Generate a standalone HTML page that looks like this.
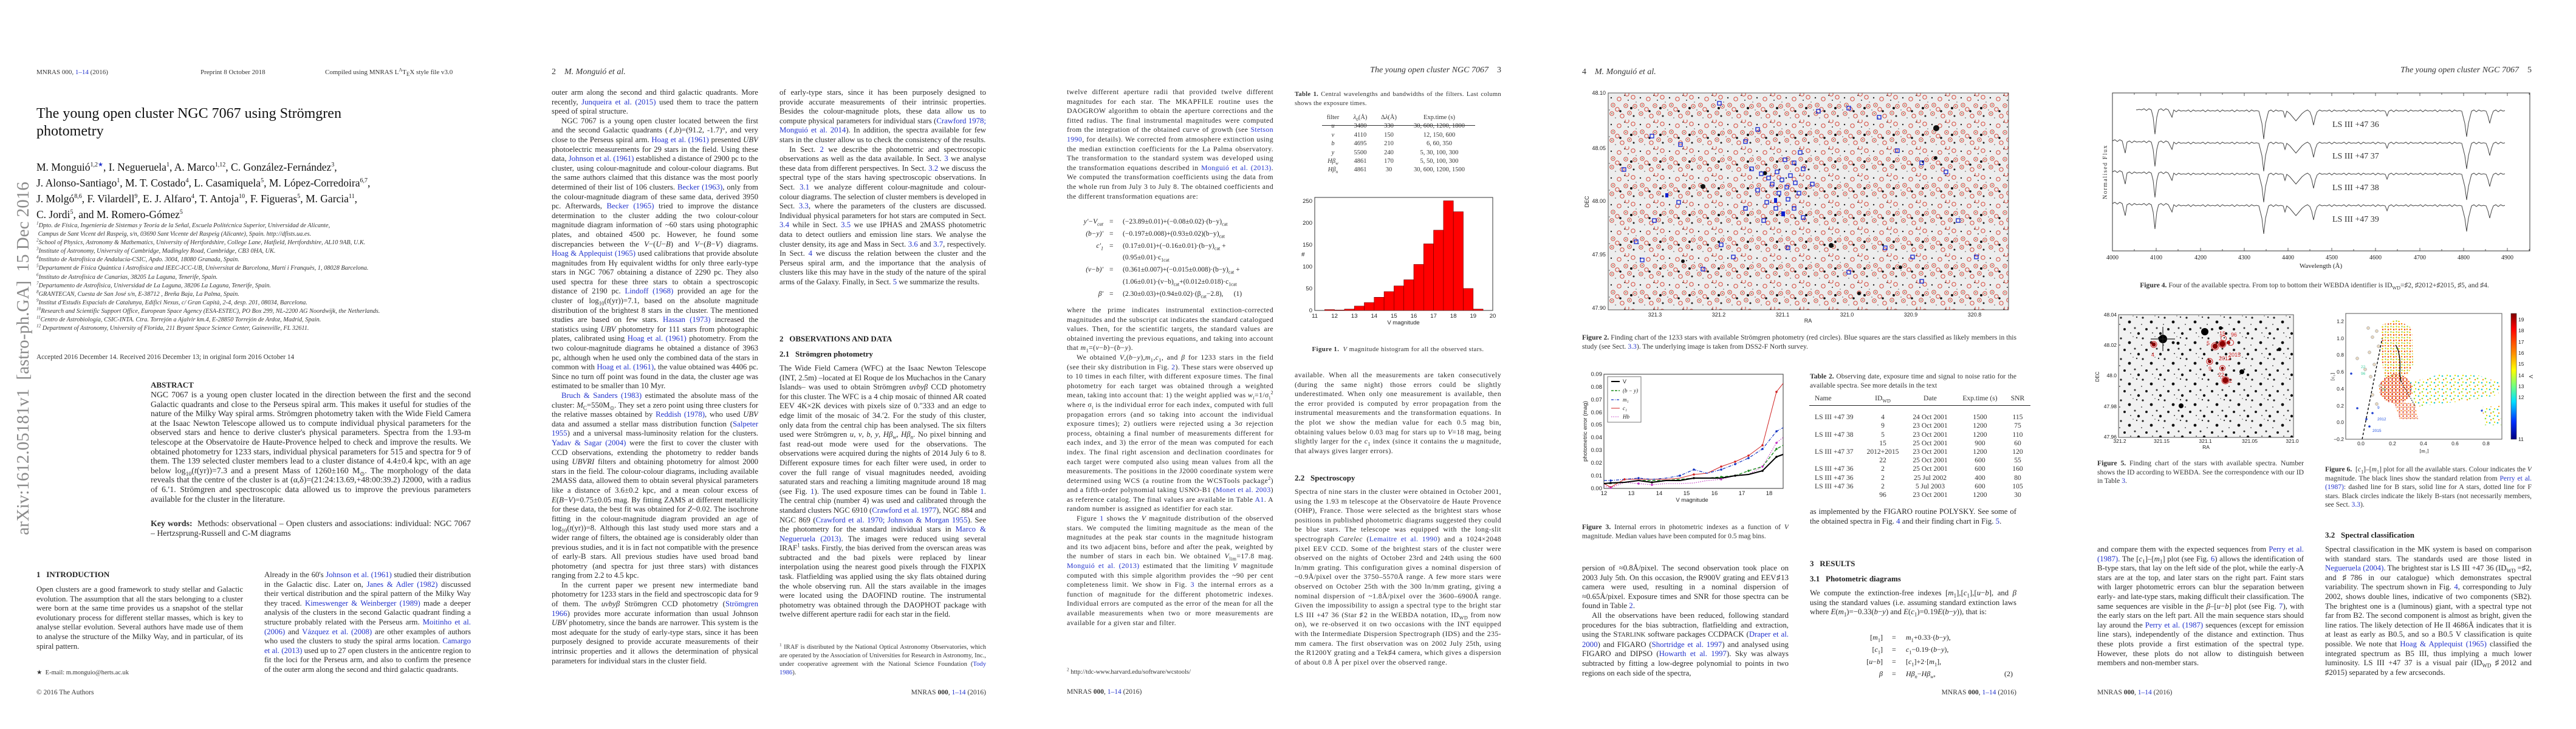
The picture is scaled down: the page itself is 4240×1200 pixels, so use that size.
<!DOCTYPE html>
<html><head><meta charset="utf-8">
<style>
html,body{margin:0;padding:0;background:#fff;}
body{width:4240px;height:1200px;position:relative;overflow:hidden;font-family:"Liberation Serif",serif;color:#222;}
sub,sup{line-height:0;font-size:70%;}
.a{position:absolute;}
.col{position:absolute;width:340px;font-size:12.8px;line-height:15.6px;text-align:justify;overflow:hidden;color:#2a2a2a;}
.col p{margin:0;text-indent:16px;}
.col p.ni{text-indent:0;}
.l{color:#2233cc;}
.hd{position:absolute;font-size:11px;line-height:14px;color:#333;white-space:nowrap;}
.it{font-style:italic;}
.sec{position:absolute;font-size:13px;font-weight:bold;line-height:16px;white-space:nowrap;color:#222;}
.cap{position:absolute;font-size:11.5px;line-height:14.5px;text-align:justify;color:#333;overflow:hidden;}
.pg3 {letter-spacing:0.4px;font-size:11.8px;}
</style></head><body>

<!-- ================= PAGE 1 ================= -->
<div class="hd" style="left:60px;top:112px;">MNRAS 000, <span class="l">1–14</span> (2016)</div>
<div class="hd" style="left:330px;top:112px;">Preprint 8 October 2018</div>
<div class="hd" style="left:535px;top:112px;">Compiled using MNRAS L<sup style="font-size:8px">A</sup>T<sub style="font-size:9px">E</sub>X style file v3.0</div>
<div class="a" style="left:60px;top:173px;font-size:24px;line-height:29px;white-space:nowrap;color:#111;">The young open cluster NGC 7067 using Strömgren<br>photometry</div>
<div class="a" style="left:60px;top:262px;font-size:17.5px;line-height:26px;white-space:nowrap;color:#111;">M. Monguió<sup style="font-size:10px">1,2<span class="l">★</span></sup>, I. Negueruela<sup style="font-size:10px">1</sup>, A. Marco<sup style="font-size:10px">1,12</sup>, C. González-Fernández<sup style="font-size:10px">3</sup>,<br>J. Alonso-Santiago<sup style="font-size:10px">1</sup>, M. T. Costado<sup style="font-size:10px">4</sup>, L. Casamiquela<sup style="font-size:10px">5</sup>, M. López-Corredoira<sup style="font-size:10px">6,7</sup>,<br>J. Molgó<sup style="font-size:10px">8,6</sup>, F. Vilardell<sup style="font-size:10px">9</sup>, E. J. Alfaro<sup style="font-size:10px">4</sup>, T. Antoja<sup style="font-size:10px">10</sup>, F. Figueras<sup style="font-size:10px">5</sup>, M. Garcia<sup style="font-size:10px">11</sup>,<br>C. Jordi<sup style="font-size:10px">5</sup>, and M. Romero-Gómez<sup style="font-size:10px">5</sup></div>
<div class="a it" style="left:60px;top:365px;font-size:10.3px;line-height:14.1px;white-space:nowrap;color:#333;">
<sup>1</sup>Dpto. de Física, Ingeniería de Sistemas y Teoría de la Señal, Escuela Politécnica Superior, Universidad de Alicante,<br>
&nbsp;Campus de Sant Vicent del Raspeig, s/n, 03690 Sant Vicente del Raspeig (Alicante), Spain. http://dfists.ua.es.<br>
<sup>2</sup>School of Physics, Astronomy &amp; Mathematics, University of Hertfordshire, College Lane, Hatfield, Hertfordshire, AL10 9AB, U.K.<br>
<sup>3</sup>Institute of Astronomy, University of Cambridge, Madingley Road, Cambridge, CB3 0HA, UK.<br>
<sup>4</sup>Instituto de Astrofísica de Andalucía-CSIC, Apdo. 3004, 18080 Granada, Spain.<br>
<sup>5</sup>Departament de Física Quàntica i Astrofísica and IEEC-ICC-UB, Universitat de Barcelona, Martí i Franquès, 1, 08028 Barcelona.<br>
<sup>6</sup>Instituto de Astrofísica de Canarias, 38205 La Laguna, Tenerife, Spain.<br>
<sup>7</sup>Departamento de Astrofísica, Universidad de La Laguna, 38206 La Laguna, Tenerife, Spain.<br>
<sup>8</sup>GRANTECAN, Cuesta de San José s/n, E-38712 , Breña Baja, La Palma, Spain.<br>
<sup>9</sup>Institut d'Estudis Espacials de Catalunya, Edifici Nexus, c/ Gran Capità, 2-4, desp. 201, 08034, Barcelona.<br>
<sup>10</sup>Research and Scientific Support Office, European Space Agency (ESA-ESTEC), PO Box 299, NL-2200 AG Noordwijk, the Netherlands.<br>
<sup>11</sup>Centro de Astrobiología, CSIC-INTA. Ctra. Torrejón a Ajalvir km.4, E-28850 Torrejón de Ardoz, Madrid, Spain.<br>
<sup>12</sup> Department of Astronomy, University of Florida, 211 Bryant Space Science Center, Gainesville, FL 32611.</div>
<div class="hd" style="left:60px;top:581px;font-size:11.3px;">Accepted 2016 December 14. Received 2016 December 13; in original form 2016 October 14</div>
<div class="a" style="left:-262px;top:570px;width:600px;height:40px;line-height:40px;text-align:center;font-size:29px;color:#8a8a8a;transform:rotate(-90deg);white-space:nowrap;">arXiv:1612.05181v1&nbsp; [astro-ph.GA]&nbsp; 15 Dec 2016</div>
<div class="sec" style="left:248px;top:626px;">ABSTRACT</div>
<div class="col" style="left:248px;top:642px;width:527px;height:204px;font-size:13.8px;">NGC 7067 is a young open cluster located in the direction between the first and the second Galactic quadrants and close to the Perseus spiral arm. This makes it useful for studies of the nature of the Milky Way spiral arms. Strömgren photometry taken with the Wide Field Camera at the Isaac Newton Telescope allowed us to compute individual physical parameters for the observed stars and hence to derive cluster's physical parameters. Spectra from the 1.93-m telescope at the Observatoire de Haute-Provence helped to check and improve the results. We obtained photometry for 1233 stars, individual physical parameters for 515 and spectra for 9 of them. The 139 selected cluster members lead to a cluster distance of 4.4±0.4 kpc, with an age below log<sub>10</sub>(<i>t</i>(yr))=7.3 and a present Mass of 1260±160 M<sub>⊙</sub>. The morphology of the data reveals that the centre of the cluster is at (α,δ)=(21:24:13.69,+48:00:39.2) J2000, with a radius of 6.′1. Strömgren and spectroscopic data allowed us to improve the previous parameters available for the cluster in the literature.</div>
<div class="col" style="left:248px;top:854px;width:527px;height:32px;font-size:13.8px;"><b>Key words:</b>&nbsp; Methods: observational – Open clusters and associations: individual: NGC 7067 – Hertzsprung-Russell and C-M diagrams</div>
<div class="sec" style="left:60px;top:938px;">1&nbsp;&nbsp;&nbsp;INTRODUCTION</div>
<div class="col" style="left:60px;top:963px;height:110px;"><p class="ni">Open clusters are a good framework to study stellar and Galactic evolution. The assumption that all the stars belonging to a cluster were born at the same time provides us a snapshot of the stellar evolutionary process for different stellar masses, which is key to analyse stellar evolution. Several authors have made use of them to analyse the structure of the Milky Way, and in particular, of its spiral pattern.</p></div>
<div class="hd" style="left:60px;top:1101px;font-size:10.5px;">★&nbsp; E-mail: m.monguio@herts.ac.uk</div>
<div class="hd" style="left:60px;top:1133px;font-size:11.5px;">© 2016 The Authors</div>
<div class="col" style="left:435px;top:939px;height:173px;"><p class="ni">Already in the 60's <span class="l">Johnson et al. (1961)</span> studied their distribution in the Galactic disc. Later on, <span class="l">Janes &amp; Adler (1982)</span> discussed their vertical distribution and the spiral pattern of the Milky Way they traced. <span class="l">Kimeswenger &amp; Weinberger (1989)</span> made a deeper analysis of the clusters in the second Galactic quadrant finding a structure probably related with the Perseus arm. <span class="l">Moitinho et al. (2006)</span> and <span class="l">Vázquez et al. (2008)</span> are other examples of authors who used the clusters to study the spiral arms location. <span class="l">Camargo et al. (2013)</span> used up to 27 open clusters in the anticentre region to fit the loci for the Perseus arm, and also to confirm the presence of the outer arm along the second and third galactic quadrants.</p></div>

<!-- ================= PAGE 2 ================= -->
<div class="hd" style="left:908px;top:110px;font-size:14px;line-height:18px;">2&nbsp;&nbsp;&nbsp;&nbsp;<i>M. Monguió et al.</i></div>
<div class="col" style="left:908px;top:145px;height:970px;"><p class="ni">outer arm along the second and third galactic quadrants. More recently, <span class="l">Junqueira et al. (2015)</span> used them to trace the pattern speed of spiral structure.</p><p>NGC 7067 is a young open cluster located between the first and the second Galactic quadrants (<i>ℓ</i>,<i>b</i>)=(91.2, -1.7)°, and very close to the Perseus spiral arm. <span class="l">Hoag et al. (1961)</span> presented <i>UBV</i> photoelectric measurements for 29 stars in the field. Using these data, <span class="l">Johnson et al. (1961)</span> established a distance of 2900 pc to the cluster, using colour-magnitude and colour-colour diagrams. But the same authors claimed that this distance was the most poorly determined of their list of 106 clusters. <span class="l">Becker (1963)</span>, only from the colour-magnitude diagram of these same data, derived 3950 pc. Afterwards, <span class="l">Becker (1965)</span> tried to improve the distance determination to the cluster adding the two colour-colour magnitude diagram information of ~60 stars using photographic plates, and obtained 4500 pc. However, he found some discrepancies between the <i>V</i>−(<i>U</i>−<i>B</i>) and <i>V</i>−(<i>B</i>−<i>V</i>) diagrams. <span class="l">Hoag &amp; Applequist (1965)</span> used calibrations that provide absolute magnitudes from Hγ equivalent widths for only three early-type stars in NGC 7067 obtaining a distance of 2290 pc. They also used spectra for these three stars to obtain a spectroscopic distance of 2190 pc. <span class="l">Lindoff (1968)</span> provided an age for the cluster of log<sub>10</sub>(<i>t</i>(yr))=7.1, based on the absolute magnitude distribution of the brightest 8 stars in the cluster. The mentioned studies are based on few stars. <span class="l">Hassan (1973)</span> increased the statistics using <i>UBV</i> photometry for 111 stars from photographic plates, calibrated using <span class="l">Hoag et al. (1961)</span> photometry. From the two colour-magnitude diagrams he obtained a distance of 3963 pc, although when he used only the combined data of the stars in common with <span class="l">Hoag et al. (1961)</span>, the value obtained was 4406 pc. Since no turn off point was found in the data, the cluster age was estimated to be smaller than 10 Myr.</p><p><span class="l">Bruch &amp; Sanders (1983)</span> estimated the absolute mass of the cluster: <i>M</i><sub>C</sub>=550M<sub>⊙</sub>. They set a zero point using three clusters for the relative masses obtained by <span class="l">Reddish (1978)</span>, who used <i>UBV</i> data and assumed a stellar mass distribution function (<span class="l">Salpeter 1955</span>) and a universal mass-luminosity relation for the clusters. <span class="l">Yadav &amp; Sagar (2004)</span> were the first to cover the cluster with CCD observations, extending the photometry to redder bands using <i>UBVRI</i> filters and obtaining photometry for almost 2000 stars in the field. The colour-colour diagrams, including available 2MASS data, allowed them to obtain several physical parameters like a distance of 3.6±0.2 kpc, and a mean colour excess of <i>E</i>(<i>B</i>−<i>V</i>)=0.75±0.05 mag. By fitting ZAMS at different metallicity for these data, the best fit was obtained for <i>Z</i>~0.02. The isochrone fitting in the colour-magnitude diagram provided an age of log<sub>10</sub>(<i>t</i>(yr))=8. Although this last study used more stars and a wider range of filters, the obtained age is considerably older than previous studies, and it is in fact not compatible with the presence of early-B stars. All previous studies have used broad band photometry (and spectra for just three stars) with distances ranging from 2.2 to 4.5 kpc.</p><p>In the current paper we present new intermediate band photometry for 1233 stars in the field and spectroscopic data for 9 of them. The <i>uvbyβ</i> Strömgren CCD photometry (<span class="l">Strömgren 1966</span>) provides more accurate information than usual Johnson <i>UBV</i> photometry, since the bands are narrower. This system is the most adequate for the study of early-type stars, since it has been purposely designed to provide accurate measurements of their intrinsic properties and it allows the determination of physical parameters for individual stars in the cluster field.</p></div>
<div class="col" style="left:1283px;top:145px;height:360px;"><p class="ni">of early-type stars, since it has been purposely designed to provide accurate measurements of their intrinsic properties. Besides the colour-magnitude plots, these data allow us to compute physical parameters for individual stars (<span class="l">Crawford 1978; Monguió et al. 2014</span>). In addition, the spectra available for few stars in the cluster allow us to check the consistency of the results.</p><p>In Sect. <span class="l">2</span> we describe the photometric and spectroscopic observations as well as the data available. In Sect. <span class="l">3</span> we analyse these data from different perspectives. In Sect. <span class="l">3.2</span> we discuss the spectral type of the stars having spectroscopic observations. In Sect. <span class="l">3.1</span> we analyze different colour-magnitude and colour-colour diagrams. The selection of cluster members is developed in Sect. <span class="l">3.3</span>, where the parameters of the clusters are discussed. Individual physical parameters for hot stars are computed in Sect. <span class="l">3.4</span> while in Sect. <span class="l">3.5</span> we use IPHAS and 2MASS photometric data to detect outliers and emission line stars. We analyse the cluster density, its age and Mass in Sect. <span class="l">3.6</span> and <span class="l">3.7</span>, respectively. In Sect. <span class="l">4</span> we discuss the relation between the cluster and the Perseus spiral arm, and the importance that the analysis of clusters like this may have in the study of the nature of the spiral arms of the Galaxy. Finally, in Sect. <span class="l">5</span> we summarize the results.</p></div>
<div class="sec" style="left:1283px;top:550px;">2&nbsp;&nbsp;&nbsp;OBSERVATIONS AND DATA</div>
<div class="sec" style="left:1283px;top:575px;">2.1&nbsp;&nbsp;&nbsp;Strömgren photometry</div>
<div class="col" style="left:1283px;top:599px;height:422px;"><p class="ni">The Wide Field Camera (WFC) at the Isaac Newton Telescope (INT, 2.5m) –located at El Roque de los Muchachos in the Canary Islands– was used to obtain Strömgren <i>uvbyβ</i> CCD photometry for this cluster. The WFC is a 4 chip mosaic of thinned AR coated EEV 4K×2K devices with pixels size of 0.″333 and an edge to edge limit of the mosaic of 34.′2. For the study of this cluster, only data from the central chip has been analysed. The six filters used were Strömgren <i>u</i>, <i>v</i>, <i>b</i>, <i>y</i>, <i>Hβ<sub>w</sub></i>, <i>Hβ<sub>n</sub></i>. No pixel binning and fast read-out mode were used for the observations. The observations were acquired during the nights of 2014 July 6 to 8. Different exposure times for each filter were used, in order to cover the full range of visual magnitudes needed, avoiding saturated stars and reaching a limiting magnitude around 18 mag (see Fig. <span class="l">1</span>). The used exposure times can be found in Table <span class="l">1</span>. The central chip (number 4) was used and calibrated through the standard clusters NGC 6910 (<span class="l">Crawford et al. 1977</span>), NGC 884 and NGC 869 (<span class="l">Crawford et al. 1970; Johnson &amp; Morgan 1955</span>). See the photometry for the standard individual stars in <span class="l">Marco &amp; Negueruela (2013)</span>. The images were reduced using several IRAF<sup>1</sup> tasks. Firstly, the bias derived from the overscan areas was subtracted and the bad pixels were replaced by linear interpolation using the nearest good pixels through the FIXPIX task. Flatfielding was applied using the sky flats obtained during the whole observing run. All the stars available in the images were located using the DAOFIND routine. The instrumental photometry was obtained through the DAOPHOT package with twelve different aperture radii for each star in the field.</p></div>
<div class="cap" style="left:1283px;top:1059px;width:340px;font-size:10.6px;line-height:14px;height:60px;"><sup>1</sup> IRAF is distributed by the National Optical Astronomy Observatories, which are operated by the Association of Universities for Research in Astronomy, Inc., under cooperative agreement with the National Science Foundation (<span class="l">Tody 1986</span>).</div>
<div class="hd" style="left:1473px;top:1133px;width:150px;text-align:right;font-size:11.5px;">MNRAS <b>000</b>, <span class="l">1–14</span> (2016)</div>

<!-- ================= PAGE 3 ================= -->
<div class="hd" style="left:2171px;top:107px;width:300px;text-align:right;font-size:14px;line-height:18px;"><i>The young open cluster NGC 7067</i>&nbsp;&nbsp;&nbsp;&nbsp;3</div>
<div class="col pg3" style="left:1756px;top:144px;height:204px;"><p class="ni">twelve different aperture radii that provided twelve different magnitudes for each star. The MKAPFILE routine uses the DAOGROW algorithm to obtain the aperture corrections and the fitted radius. The final instrumental magnitudes were computed from the integration of the obtained curve of growth (see <span class="l">Stetson 1990</span>, for details). We corrected from atmosphere extinction using the median extinction coefficients for the La Palma observatory. The transformation to the standard system was developed using the transformation equations described in <span class="l">Monguió et al. (2013)</span>. We computed the transformation coefficients using the data from the whole run from July 3 to July 8. The obtained coefficients and the different transformation equations are:</p></div>
<div class="a" style="left:1756px;top:356px;width:340px;font-size:11.5px;line-height:19.8px;color:#222;white-space:nowrap;">
<div class="a it" style="left:0;width:60px;text-align:right;">y′−V<sub>cat</sub><br>(b−y)′<br>c′<sub>1</sub><br><br>(v−b)′<br><br>β′</div>
<div class="a" style="left:70px;">=<br>=<br>=<br><br>=<br><br>=</div>
<div class="a" style="left:92px;">(−23.89±0.01)+(−0.08±0.02)·(b−y)<sub>cat</sub><br>(−0.197±0.008)+(0.93±0.02)(b−y)<sub>cat</sub><br>(0.17±0.01)+(−0.16±0.01)·(b−y)<sub>cat</sub> +<br>(0.95±0.01)·c<sub>1cat</sub><br>(0.361±0.007)+(−0.015±0.008)·(b−y)<sub>cat</sub> +<br>(1.06±0.01)·(v−b)<sub>cat</sub>+(0.012±0.018)·c<sub>1cat</sub><br>(2.30±0.03)+(0.94±0.02)·(β<sub>cat</sub>−2.8),&nbsp;&nbsp;&nbsp;&nbsp;&nbsp;&nbsp;(1)</div>
</div>
<div class="col pg3" style="left:1756px;top:503px;height:563px;"><p class="ni">where the prime indicates instrumental extinction-corrected magnitudes and the subscript cat indicates the standard catalogued values. Then, for the scientific targets, the standard values are obtained inverting the previous equations, and taking into account that <i>m</i><sub>1</sub>=(<i>v</i>−<i>b</i>)−(<i>b</i>−<i>y</i>).</p><p>We obtained <i>V</i>,(<i>b</i>−<i>y</i>),<i>m</i><sub>1</sub>,<i>c</i><sub>1</sub>, and <i>β</i> for 1233 stars in the field (see their sky distribution in Fig. <span class="l">2</span>). These stars were observed up to 10 times in each filter, with different exposure times. The final photometry for each target was obtained through a weighted mean, taking into account that: 1) the weight applied was <i>w<sub>i</sub></i>=1/σ<sub>i</sub><sup>2</sup> where σ<sub>i</sub> is the individual error for each index, computed with full propagation errors (and so taking into account the individual exposure times); 2) outliers were rejected using a 3σ rejection process, obtaining a final number of measurements different for each index, and 3) the error of the mean was computed for each index. The final right ascension and declination coordinates for each target were computed also using mean values from all the measurements. The positions in the J2000 coordinate system were determined using WCS (a routine from the WCSTools package<sup>2</sup>) and a fifth-order polynomial taking USNO-B1 (<span class="l">Monet et al. 2003</span>) as reference catalog. The final values are available in Table <span class="l">A1</span>. A random number is assigned as identifier for each star.</p><p>Figure <span class="l">1</span> shows the <i>V</i> magnitude distribution of the observed stars. We computed the limiting magnitude as the mean of the magnitudes at the peak star counts in the magnitude histogram and its two adjacent bins, before and after the peak, weighted by the number of stars in each bin. We obtained <i>V</i><sub>lim</sub>=17.8 mag. <span class="l">Monguió et al. (2013)</span> estimated that the limiting <i>V</i> magnitude computed with this simple algorithm provides the ~90 per cent completeness limit. We show in Fig. <span class="l">3</span> the internal errors as a function of magnitude for the different photometric indexes. Individual errors are computed as the error of the mean for all the available measurements when two or more measurements are available for a given star and filter.</p></div>
<div class="hd" style="left:1756px;top:1100px;font-size:10.5px;"><sup>2</sup> http://tdc-www.harvard.edu/software/wcstools/</div>
<div class="hd" style="left:1756px;top:1132px;font-size:11.5px;">MNRAS <b>000</b>, <span class="l">1–14</span> (2016)</div>
<div class="cap" style="left:2131px;top:148px;width:340px;font-size:10.6px;line-height:15px;height:32px;letter-spacing:0.3px;"><b>Table 1.</b> Central wavelengths and bandwidths of the filters. Last column shows the exposure times.</div>
<div class="a" style="left:2176px;top:206px;width:252px;border-top:1px solid #333;"></div>
<div class="a" style="font-size:10.5px;line-height:14.4px;top:187px;left:2131px;width:340px;color:#333;">
<div class="a" style="left:45px;width:36px;text-align:center;">filter<br><i>u</i><br><i>v</i><br><i>b</i><br><i>y</i><br><i>Hβ<sub>w</sub></i><br><i>Hβ<sub>n</sub></i></div>
<div class="a" style="left:88px;width:40px;text-align:center;"><i>λ</i><sub>0</sub>(Å)<br>3480<br>4110<br>4695<br>5500<br>4861<br>4861</div>
<div class="a" style="left:135px;width:40px;text-align:center;">Δ<i>λ</i>(Å)<br>330<br>150<br>210<br>240<br>170<br>30</div>
<div class="a" style="left:180px;width:116px;text-align:center;white-space:nowrap;">Exp.time (s)<br>30, 600, 1200, 1800<br>12, 150, 600<br>6, 60, 350<br>5, 30, 100, 300<br>5, 50, 100, 300<br>30, 600, 1200, 1500</div>
</div>
<div class="cap" style="left:2131px;top:568px;width:340px;text-align:center;font-size:10.8px;letter-spacing:0.4px;"><b>Figure 1.</b>&nbsp; <i>V</i> magnitude histogram for all the observed stars.</div>
<div class="col pg3" style="left:2131px;top:610px;height:141px;"><p class="ni">available. When all the measurements are taken consecutively (during the same night) those errors could be slightly underestimated. When only one measurement is available, then the error provided is computed by error propagation from the instrumental measurements and the transformation equations. In the plot we show the median value for each 0.5 mag bin, obtaining values below 0.03 mag for stars up to <i>V</i>=18 mag, being slightly larger for the <i>c</i><sub>1</sub> index (since it contains the <i>u</i> magnitude, that always gives larger errors).</p></div>
<div class="sec" style="left:2131px;top:779px;">2.2&nbsp;&nbsp;&nbsp;Spectroscopy</div>
<div class="col pg3" style="left:2131px;top:802px;height:313px;"><p class="ni">Spectra of nine stars in the cluster were obtained in October 2001, using the 1.93 m telescope at the Observatoire de Haute Provence (OHP), France. Those were selected as the brightest stars whose positions in published photometric diagrams suggested they could be blue stars. The telescope was equipped with the long-slit spectrograph <i>Carelec</i> (<span class="l">Lemaitre et al. 1990</span>) and a 1024×2048 pixel EEV CCD. Some of the brightest stars of the cluster were observed on the nights of October 23rd and 24th using the 600 ln/mm grating. This configuration gives a nominal dispersion of ~0.9Å/pixel over the 3750–5570Å range. A few more stars were observed on October 25th with the 300 ln/mm grating, giving a nominal dispersion of ~1.8Å/pixel over the 3600–6900Å range. Given the impossibility to assign a spectral type to the bright star LS III +47 36 (Star ♯2 in the WEBDA notation, ID<sub>WD</sub> from now on), we re-observed it on two occasions with the INT equipped with the Intermediate Dispersion Spectrograph (IDS) and the 235-mm camera. The first observation was on 2002 July 25th, using the R1200Y grating and a Tek♯4 camera, which gives a dispersion of about 0.8 Å per pixel over the observed range.</p></div>

<!-- ================= PAGE 4 ================= -->
<div class="hd" style="left:2604px;top:110px;font-size:14px;line-height:18px;">4&nbsp;&nbsp;&nbsp;&nbsp;<i>M. Monguió et al.</i></div>
<div class="cap" style="left:2604px;top:549px;width:715px;height:32px;font-size:11.6px;"><b>Figure 2.</b> Finding chart of the 1233 stars with available Strömgren photometry (red circles). Blue squares are the stars classified as likely members in this study (see Sect. <span class="l">3.3</span>). The underlying image is taken from DSS2-F North survey.</div>
<div class="cap" style="left:2604px;top:861px;width:340px;height:46px;font-size:11.6px;"><b>Figure 3.</b> Internal errors in photometric indexes as a function of <i>V</i> magnitude. Median values have been computed for 0.5 mag bins.</div>
<div class="cap" style="left:2979px;top:613px;width:340px;height:32px;font-size:11.6px;"><b>Table 2.</b> Observing date, exposure time and signal to noise ratio for the available spectra. See more details in the text</div>
<div class="a" style="left:2978px;top:667px;width:364px;border-top:1.5px solid #222;"></div>
<div class="a" style="font-size:11.6px;line-height:14.2px;top:649px;left:2978px;width:364px;color:#333;white-space:nowrap;">
<div class="a" style="left:9px;">Name<br><span style="line-height:17px">&nbsp;</span><br>LS III +47 39<br><br>LS III +47 38<br><br>LS III +47 37<br><br>LS III +47 36<br>LS III +47 36<br>LS III +47 36</div>
<div class="a" style="left:91px;width:60px;text-align:center;">ID<sub>WD</sub><br><span style="line-height:17px">&nbsp;</span><br>4<br>9<br>5<br>15<br>2012+2015<br>22<br>2<br>2<br>2<br>96</div>
<div class="a" style="left:164px;width:70px;text-align:center;">Date<br><span style="line-height:17px">&nbsp;</span><br>24 Oct 2001<br>23 Oct 2001<br>23 Oct 2001<br>25 Oct 2001<br>23 Oct 2001<br>25 Oct 2001<br>25 Oct 2001<br>25 Jul 2002<br>5 Jul 2003<br>23 Oct 2001</div>
<div class="a" style="left:246px;width:70px;text-align:center;">Exp.time (s)<br><span style="line-height:17px">&nbsp;</span><br>1500<br>1200<br>1200<br>900<br>1200<br>600<br>600<br>400<br>600<br>1200</div>
<div class="a" style="left:326px;width:34px;text-align:center;">SNR<br><span style="line-height:17px">&nbsp;</span><br>115<br>75<br>110<br>60<br>120<br>55<br>160<br>80<br>105<br>30</div>
</div>
<div class="col" style="left:2979px;top:835px;height:48px;"><p class="ni">as implemented by the FIGARO routine POLYSKY. See some of the obtained spectra in Fig. <span class="l">4</span> and their finding chart in Fig. <span class="l">5</span>.</p></div>
<div class="sec" style="left:2979px;top:920px;">3&nbsp;&nbsp;&nbsp;RESULTS</div>
<div class="sec" style="left:2979px;top:945px;">3.1&nbsp;&nbsp;&nbsp;Photometric diagrams</div>
<div class="col" style="left:2979px;top:969px;height:63px;"><p class="ni">We compute the extinction-free indexes [<i>m</i><sub>1</sub>],[<i>c</i><sub>1</sub>],[<i>u</i>−<i>b</i>], and <i>β</i> using the standard values (i.e. assuming standard extinction laws where <i>E</i>(<i>m</i><sub>1</sub>)=−0.33(<i>b</i>−<i>y</i>) and <i>E</i>(<i>c</i><sub>1</sub>)=0.19<i>E</i>(<i>b</i>−<i>y</i>)), that is:</p></div>
<div class="a" style="left:2979px;top:1039px;width:340px;font-size:12px;line-height:20px;white-space:nowrap;color:#222;">
<div class="a" style="left:80px;width:40px;text-align:right;">[<i>m</i><sub>1</sub>]<br>[<i>c</i><sub>1</sub>]<br>[<i>u</i>−<i>b</i>]<br><i>β</i></div>
<div class="a" style="left:135px;">=<br>=<br>=<br>=</div>
<div class="a" style="left:158px;"><i>m</i><sub>1</sub>+0.33·(<i>b</i>−<i>y</i>),<br><i>c</i><sub>1</sub>−0.19·(<i>b</i>−<i>y</i>),<br>[<i>c</i><sub>1</sub>]+2·[<i>m</i><sub>1</sub>],<br><i>Hβ<sub>n</sub></i>−<i>Hβ<sub>w</sub></i>,</div>
<div class="a" style="left:320px;top:60px;">(2)</div>
</div>
<div class="col" style="left:2604px;top:928px;height:189px;"><p class="ni">persion of ≈0.8Å/pixel. The second observation took place on 2003 July 5th. On this occasion, the R900V grating and EEV♯13 camera were used, resulting in a nominal dispersion of ≈0.65Å/pixel. Exposure times and SNR for those spectra can be found in Table <span class="l">2</span>.</p><p>All the observations have been reduced, following standard procedures for the bias subtraction, flatfielding and extraction, using the S<small>TARLINK</small> software packages CCDPACK (<span class="l">Draper et al. 2000</span>) and FIGARO (<span class="l">Shortridge et al. 1997</span>) and analysed using FIGARO and DIPSO (<span class="l">Howarth et al. 1997</span>). Sky was always subtracted by fitting a low-degree polynomial to points in two regions on each side of the spectra,</p></div>
<div class="hd" style="left:3169px;top:1133px;width:150px;text-align:right;font-size:11.5px;">MNRAS <b>000</b>, <span class="l">1–14</span> (2016)</div>

<!-- ================= PAGE 5 ================= -->
<div class="hd" style="left:3867px;top:107px;width:300px;text-align:right;font-size:14px;line-height:18px;"><i>The young open cluster NGC 7067</i>&nbsp;&nbsp;&nbsp;&nbsp;5</div>
<div class="cap" style="left:3452px;top:463px;width:715px;text-align:center;font-size:11.6px;"><b>Figure 4.</b> Four of the available spectra. From top to bottom their WEBDA identifier is ID<sub>WD</sub>=♯2, ♯2012+♯2015, ♯5, and ♯4.</div>
<div class="cap" style="left:3452px;top:756px;width:340px;height:46px;font-size:11.6px;"><b>Figure 5.</b> Finding chart of the stars with available spectra. Number shows the ID according to WEBDA. See the correspondence with our ID in Table <span class="l">3</span>.</div>
<div class="cap" style="left:3827px;top:766px;width:340px;height:74px;font-size:11.6px;"><b>Figure 6.</b>&nbsp; [<i>c</i><sub>1</sub>]–[<i>m</i><sub>1</sub>] plot for all the available stars. Colour indicates the <i>V</i> magnitude. The black lines show the standard relation from <span class="l">Perry et al. (1987)</span>: dashed line for B stars, solid line for A stars, dotted line for F stars. Black circles indicate the likely B-stars (not necessarily members, see Sect. <span class="l">3.3</span>).</div>
<div class="col" style="left:3452px;top:897px;height:220px;"><p class="ni">and compare them with the expected sequences from <span class="l">Perry et al. (1987)</span>. The [<i>c</i><sub>1</sub>]–[<i>m</i><sub>1</sub>] plot (see Fig. <span class="l">6</span>) allows the identification of B-type stars, that lay on the left side of the plot, while the early-A stars are at the top, and later stars on the right part. Faint stars with larger photometric errors can blur the separation between early- and late-type stars, making difficult their classification. The same sequences are visible in the <i>β</i>–[<i>u</i>−<i>b</i>] plot (see Fig. <span class="l">7</span>), with the early stars on the left part. All the main sequence stars should lay around the <span class="l">Perry et al. (1987)</span> sequences (except for emission line stars), independently of the distance and extinction. Thus these plots provide a first estimation of the spectral type. However, these plots do not allow to distinguish between members and non-member stars.</p></div>
<div class="hd" style="left:3452px;top:1133px;font-size:11.5px;">MNRAS <b>000</b>, <span class="l">1–14</span> (2016)</div>
<div class="sec" style="left:3827px;top:873px;">3.2&nbsp;&nbsp;&nbsp;Spectral classification</div>
<div class="col" style="left:3827px;top:897px;height:220px;"><p class="ni">Spectral classification in the MK system is based on comparison with standard stars. The standards used are those listed in <span class="l">Negueruela (2004)</span>. The brightest star is LS III +47 36 (ID<sub>WD</sub> =♯2, and ♯786 in our catalogue) which demonstrates spectral variability. The spectrum shown in Fig. <span class="l">4</span>, corresponding to July 2002, shows double lines, indicative of two components (SB2). The brightest one is a (luminous) giant, with a spectral type not far from B2. The second component is almost as bright, given the line ratios. The likely detection of He II 4686Å indicates that it is at least as early as B0.5, and so a B0.5 V classification is quite possible. We note that <span class="l">Hoag &amp; Applequist (1965)</span> classified the integrated spectrum as B5 III, thus implying a much lower luminosity. LS III +47 37 is a visual pair (ID<sub>WD</sub> ♯2012 and ♯2015) separated by a few arcseconds.</p></div>

<!-- ================= FIGURES (SVG) ================= -->
<svg class="a" style="left:0;top:0" width="4240" height="1200" viewBox="0 0 4240 1200" font-family="Liberation Sans, sans-serif">
<defs>
<pattern id="pf2" x="2647" y="153" width="48" height="44" patternUnits="userSpaceOnUse">
<circle cx="5" cy="8" r="1.2" fill="#222"/><circle cx="20" cy="30" r="1.8" fill="#111"/><circle cx="33" cy="12" r="1" fill="#333"/><circle cx="42" cy="38" r="1.5" fill="#222"/><circle cx="12" cy="41" r="0.8" fill="#444"/><circle cx="27" cy="4" r="1" fill="#333"/><circle cx="38" cy="25" r="2" fill="#111"/><circle cx="2" cy="28" r="0.8" fill="#555"/><circle cx="46" cy="15" r="0.8" fill="#555"/>
<g fill="none" stroke="#d03020" stroke-width="0.9"><circle cx="8" cy="20" r="3.2"/><circle cx="18" cy="10" r="3.2"/><circle cx="29" cy="21" r="3.2"/><circle cx="41" cy="7" r="3.2"/><circle cx="6" cy="34" r="3.2"/><circle cx="23" cy="38" r="3.2"/><circle cx="35" cy="33" r="3.2"/><circle cx="44" cy="22" r="3.2"/><circle cx="15" cy="27" r="3.2"/><circle cx="31" cy="2" r="3.2"/></g>
<g fill="#552"><circle cx="8" cy="20" r="0.9"/><circle cx="29" cy="21" r="0.9"/><circle cx="6" cy="34" r="0.9"/><circle cx="35" cy="33" r="0.9"/><circle cx="44" cy="22" r="0.9"/></g>
</pattern>
<pattern id="pf5" x="3487" y="518" width="36" height="34" patternUnits="userSpaceOnUse">
<circle cx="4" cy="5" r="1.6" fill="#222"/><circle cx="18" cy="12" r="2.4" fill="#111"/><circle cx="30" cy="4" r="1.2" fill="#333"/><circle cx="10" cy="24" r="2" fill="#1a1a1a"/><circle cx="27" cy="22" r="1.5" fill="#333"/><circle cx="33" cy="31" r="2.2" fill="#111"/><circle cx="20" cy="30" r="1" fill="#444"/><circle cx="2" cy="16" r="1" fill="#555"/><circle cx="24" cy="2" r="0.8" fill="#555"/>
</pattern>
<pattern id="pPl" x="0" y="0" width="9" height="9" patternUnits="userSpaceOnUse"><circle cx="2" cy="2" r="1.3" fill="#ff8c00"/><circle cx="6.5" cy="7" r="1.3" fill="#e8d000"/><circle cx="7" cy="2.5" r="1.2" fill="#e03010"/><circle cx="2.5" cy="6.5" r="1.2" fill="#90d040"/></pattern>
<pattern id="pRd" x="0" y="0" width="6" height="6" patternUnits="userSpaceOnUse"><circle cx="1.5" cy="1.5" r="1.3" fill="#e02000"/><circle cx="4.5" cy="4" r="1.3" fill="#ff7000"/><circle cx="1.5" cy="5" r="1" fill="#b00000"/></pattern>
<pattern id="pTl" x="0" y="0" width="13" height="11" patternUnits="userSpaceOnUse"><circle cx="3" cy="3" r="1.3" fill="#20c8c8"/><circle cx="9" cy="7" r="1.3" fill="#90e040"/><circle cx="5" cy="9" r="1.2" fill="#ff9a00"/><circle cx="11" cy="2" r="1.2" fill="#e8e000"/></pattern>
<linearGradient id="jet" x1="0" y1="0" x2="0" y2="1"><stop offset="0" stop-color="#800000"/><stop offset="0.12" stop-color="#ff0000"/><stop offset="0.32" stop-color="#ff9000"/><stop offset="0.45" stop-color="#ffff00"/><stop offset="0.58" stop-color="#70ff80"/><stop offset="0.7" stop-color="#00e0ff"/><stop offset="0.86" stop-color="#0030ff"/><stop offset="1" stop-color="#000080"/></linearGradient>
<path id="spec" fill="none" stroke="#444" stroke-width="1" d="M3477,0 l4,-2 4,3 4,-3 4,2 2,8 3,12 3,-18 4,-2 4,3 4,-3 4,2 4,-1 4,1 4,-2 4,3 4,-3 4,2 3,12 3,28 3,-28 3,-12 4,-2 4,3 4,-3 4,2 3,6 3,6 3,-12 4,3 4,-3 4,2 4,-1 4,1 4,-2 4,3 4,-3 4,2 4,-1 4,1 4,-2 4,3 4,-3 4,2 4,-1 4,1 4,-2 4,3 4,-3 4,2 4,-1 4,1 4,-2 4,3 4,-3 4,2 4,-1 4,1 4,-2 4,3 4,-3 4,2 4,-1 4,1 2,8 3,12 3,26 3,-26 3,-12 2,-8 4,-2 4,3 4,-3 4,2 4,-1 4,1 3,10 3,-10 5,4 5,6 5,6 5,-6 5,-6 5,-4 4,-2 4,3 3,8 3,14 3,-14 3,-8 4,-3 4,2 4,-1 4,1 4,-2 4,3 4,-3 4,2 4,-1 4,1 4,-2 4,3 4,-3 4,2 4,-1 4,1 4,-2 4,3 4,-3 4,2 4,-1 4,1 4,-2 4,3 4,-3 4,2 4,-1 4,1 3,8 3,-8 4,-2 4,3 4,-3 4,2 4,-1 4,1 4,-2 4,3 4,-3 4,2 4,-1 4,1 4,-2 4,3 4,-3 4,2 4,-1 4,1 4,-2 4,3 4,-3 4,2 4,-1 4,1 4,-2 4,3 4,-3 4,2 4,-1 4,1 2,8 3,12 3,22 3,-22 3,-12 2,-8 4,-2 4,3 4,-3 4,2 4,-1 4,1 3,8 3,12 3,-12 3,-8 4,-2 4,3 4,-3 4,2 3,-1"/>
</defs>

<!-- Histogram page3 -->
<g>
<rect x="2164" y="325" width="293" height="186" fill="none" stroke="#333" stroke-width="1"/>
<g fill="#ff0000" stroke="#600" stroke-width="0.6">
<rect x="2180.3" y="509.6" width="16.3" height="1.4"/><rect x="2196.6" y="510.3" width="16.3" height="0.7"/><rect x="2212.9" y="508.8" width="16.3" height="2.2"/><rect x="2229.2" y="503.8" width="16.3" height="7.2"/><rect x="2245.5" y="498" width="16.3" height="13"/><rect x="2261.8" y="489.3" width="16.3" height="21.7"/><rect x="2278.1" y="480" width="16.3" height="31"/><rect x="2294.4" y="470.6" width="16.3" height="40.4"/><rect x="2310.7" y="460.5" width="16.3" height="50.5"/><rect x="2327" y="435.2" width="16.3" height="75.8"/><rect x="2343.3" y="401.3" width="16.3" height="109.7"/><rect x="2359.6" y="378.9" width="16.3" height="132.1"/><rect x="2375.9" y="330.5" width="16.3" height="180.5"/><rect x="2392.2" y="348.5" width="16.3" height="162.5"/><rect x="2408.5" y="474.9" width="16.3" height="36.1"/><rect x="2424.8" y="508.8" width="16.3" height="2.2"/>
</g>
<g font-size="9.5" fill="#222" text-anchor="end"><text x="2160" y="514">0</text><text x="2160" y="478">50</text><text x="2160" y="442">100</text><text x="2160" y="406">150</text><text x="2160" y="370">200</text><text x="2160" y="334">250</text></g>
<g font-size="9.5" fill="#222" text-anchor="middle"><text x="2164" y="523">11</text><text x="2196.6" y="523">12</text><text x="2229.2" y="523">13</text><text x="2261.8" y="523">14</text><text x="2294.4" y="523">15</text><text x="2327" y="523">16</text><text x="2359.6" y="523">17</text><text x="2392.2" y="523">18</text><text x="2424.8" y="523">19</text><text x="2457" y="523">20</text><text x="2310" y="534">V magnitude</text></g>
<text x="2142" y="422" font-size="10" fill="#222">#</text>
</g>

<!-- Fig 2 page4 -->
<g>
<rect x="2647" y="153" width="659" height="357" fill="#ededed"/>
<rect x="2647" y="153" width="659" height="357" fill="url(#pf2)"/>
<g fill="#111"><circle cx="2770" cy="430" r="3"/><circle cx="3187" cy="211" r="5"/><circle cx="3014" cy="404" r="4"/><circle cx="2803" cy="307" r="4"/><circle cx="2905" cy="285" r="3.5"/><circle cx="3128" cy="440" r="3"/><circle cx="3060" cy="483" r="3"/><circle cx="3186" cy="260" r="3"/></g>
<g fill="none" stroke="#1020d0" stroke-width="1.3">
<rect x="2670" y="276" width="6" height="6"/><rect x="2716" y="221" width="6" height="6"/><rect x="2763" y="235" width="6" height="6"/><rect x="2827" y="167" width="6" height="6"/><rect x="2880" y="275" width="6" height="6"/><rect x="2896" y="283" width="6" height="6"/><rect x="2908" y="290" width="6" height="6"/><rect x="2914" y="300" width="6" height="6"/><rect x="2922" y="280" width="6" height="6"/><rect x="2930" y="293" width="6" height="6"/><rect x="2938" y="305" width="6" height="6"/><rect x="2925" y="315" width="6" height="6"/><rect x="2944" y="286" width="6" height="6"/><rect x="2952" y="298" width="6" height="6"/><rect x="2940" y="325" width="6" height="6"/><rect x="2958" y="315" width="6" height="6"/><rect x="2905" y="330" width="6" height="6"/><rect x="2920" y="340" width="6" height="6"/><rect x="2950" y="340" width="6" height="6"/><rect x="2935" y="260" width="6" height="6"/><rect x="2950" y="265" width="6" height="6"/><rect x="2965" y="275" width="6" height="6"/><rect x="2960" y="248" width="6" height="6"/><rect x="2900" y="360" width="6" height="6"/><rect x="2965" y="355" width="6" height="6"/><rect x="2980" y="300" width="6" height="6"/><rect x="2890" y="310" width="6" height="6"/><rect x="2870" y="340" width="6" height="6"/><rect x="2990" y="180" width="6" height="6"/><rect x="3040" y="175" width="6" height="6"/><rect x="3090" y="190" width="6" height="6"/><rect x="3120" y="245" width="6" height="6"/><rect x="3160" y="265" width="6" height="6"/><rect x="3200" y="280" width="6" height="6"/><rect x="3220" y="360" width="6" height="6"/><rect x="3145" y="420" width="6" height="6"/><rect x="3040" y="445" width="6" height="6"/><rect x="2940" y="405" width="6" height="6"/><rect x="2850" y="420" width="6" height="6"/><rect x="2800" y="440" width="6" height="6"/><rect x="2700" y="425" width="6" height="6"/><rect x="2720" y="360" width="6" height="6"/><rect x="2760" y="330" width="6" height="6"/><rect x="2830" y="400" width="6" height="6"/><rect x="2870" y="230" width="6" height="6"/><rect x="2890" y="210" width="6" height="6"/><rect x="2690" y="395" width="6" height="6"/><rect x="3250" y="420" width="6" height="6"/><rect x="3160" y="460" width="6" height="6"/><rect x="3100" y="405" width="6" height="6"/></g>
<g fill="#1020d0"><rect x="2741" y="318" width="5" height="7"/><rect x="2920" y="326" width="5" height="8"/><rect x="2932" y="348" width="6" height="8"/></g>
<rect x="2647" y="153" width="659" height="357" fill="none" stroke="#555" stroke-width="1"/>
<g font-size="9" fill="#222" text-anchor="end"><text x="2643" y="156">48.10</text><text x="2643" y="247">48.05</text><text x="2643" y="334">48.00</text><text x="2643" y="422">47.95</text><text x="2643" y="510">47.90</text></g>
<g font-size="9" fill="#222" text-anchor="middle"><text x="2724" y="521">321.3</text><text x="2829" y="521">321.2</text><text x="2934" y="521">321.1</text><text x="3040" y="521">321.0</text><text x="3145" y="521">320.9</text><text x="3250" y="521">320.8</text><text x="2976" y="531">RA</text></g>
<text transform="translate(2615,332) rotate(-90)" font-size="9" fill="#222" text-anchor="middle">DEC</text>
</g>

<!-- Fig 3 page4 -->
<g>
<rect x="2640" y="616" width="295" height="188" fill="#fff" stroke="#333" stroke-width="1"/>
<polyline fill="none" stroke="#d02020" stroke-width="1" points="2640,796 2651,802 2674,789 2697,789 2719,789 2742,789 2765,787 2788,781 2810,779 2833,768 2856,760 2878,750 2901,733 2924,645 2935,631"/>
<polyline fill="none" stroke="#1030c0" stroke-width="1.2" stroke-dasharray="5,2,1,2" points="2640,791 2651,791 2674,789 2697,787 2719,789 2742,787 2765,783 2788,773 2810,779 2833,773 2856,764 2878,754 2901,739 2924,710 2935,704"/>
<polyline fill="none" stroke="#c030c0" stroke-width="1.1" stroke-dasharray="1.5,2" points="2640,800 2651,803 2674,794 2697,796 2719,798 2742,796 2765,796 2788,795 2810,791 2833,789 2856,783 2878,781 2901,768 2924,729 2935,720"/>
<polyline fill="none" stroke="#1a8a1a" stroke-width="1.4" stroke-dasharray="5,3" points="2640,796 2651,796 2674,794 2697,791 2719,791 2742,791 2765,789 2788,787 2810,787 2833,785 2856,783 2878,775 2901,768 2924,739 2935,733"/>
<polyline fill="none" stroke="#000" stroke-width="2" points="2640,796 2651,795 2674,794 2697,791 2719,794 2742,791 2765,791 2788,787 2810,787 2833,787 2856,783 2878,781 2901,775 2924,752 2935,748"/>
<g fill="#d02020"><circle cx="2651" cy="802" r="1.8"/><circle cx="2674" cy="789" r="1.8"/><circle cx="2788" cy="781" r="1.8"/><circle cx="2833" cy="768" r="1.8"/><circle cx="2856" cy="760" r="1.8"/><circle cx="2878" cy="750" r="1.8"/><circle cx="2901" cy="733" r="1.8"/><circle cx="2924" cy="645" r="1.8"/></g>
<g fill="#1030c0"><circle cx="2651" cy="791" r="1.8"/><circle cx="2697" cy="787" r="1.8"/><circle cx="2765" cy="783" r="1.8"/><circle cx="2788" cy="773" r="1.8"/><circle cx="2833" cy="773" r="1.8"/><circle cx="2856" cy="764" r="1.8"/><circle cx="2878" cy="754" r="1.8"/><circle cx="2901" cy="739" r="1.8"/><circle cx="2924" cy="710" r="1.8"/></g>
<g fill="#c030c0"><circle cx="2651" cy="803" r="1.8"/><circle cx="2697" cy="796" r="1.8"/><circle cx="2719" cy="798" r="1.8"/><circle cx="2833" cy="789" r="1.8"/><circle cx="2901" cy="768" r="1.8"/><circle cx="2924" cy="729" r="1.8"/></g>
<g fill="#1a8a1a"><circle cx="2833" cy="785" r="1.8"/><circle cx="2878" cy="775" r="1.8"/><circle cx="2924" cy="739" r="1.8"/></g>
<g fill="#000"><circle cx="2651" cy="795" r="1.8"/><circle cx="2719" cy="794" r="1.8"/><circle cx="2788" cy="787" r="1.8"/><circle cx="2856" cy="783" r="1.8"/><circle cx="2901" cy="775" r="1.8"/><circle cx="2924" cy="752" r="1.8"/></g>
<rect x="2646" y="620" width="55" height="75" fill="#fff" stroke="#555" stroke-width="0.8"/>
<line x1="2652" y1="628" x2="2666" y2="628" stroke="#000" stroke-width="2"/>
<line x1="2652" y1="643" x2="2666" y2="643" stroke="#1a8a1a" stroke-width="1.4" stroke-dasharray="4,2"/>
<line x1="2652" y1="658" x2="2666" y2="658" stroke="#1030c0" stroke-width="1.2" stroke-dasharray="4,2,1,2"/>
<line x1="2652" y1="672" x2="2666" y2="672" stroke="#d02020" stroke-width="1"/>
<line x1="2652" y1="686" x2="2666" y2="686" stroke="#c030c0" stroke-width="1.1" stroke-dasharray="1.5,2"/>
<g font-size="9" fill="#222" font-family="Liberation Serif, serif" font-style="italic"><text x="2671" y="631" font-style="normal" font-family="Liberation Sans, sans-serif">V</text><text x="2671" y="646">(b − y)</text><text x="2671" y="661">m₁</text><text x="2671" y="675">c₁</text><text x="2671" y="689">Hb</text></g>
<g font-size="9.5" fill="#222" text-anchor="end"><text x="2637" y="807">0.00</text><text x="2637" y="786">0.01</text><text x="2637" y="765">0.02</text><text x="2637" y="744">0.03</text><text x="2637" y="723">0.04</text><text x="2637" y="702">0.05</text><text x="2637" y="682">0.06</text><text x="2637" y="661">0.07</text><text x="2637" y="640">0.08</text><text x="2637" y="619">0.09</text></g>
<g font-size="9.5" fill="#222" text-anchor="middle"><text x="2640" y="815">12</text><text x="2685" y="815">13</text><text x="2731" y="815">14</text><text x="2776" y="815">15</text><text x="2822" y="815">16</text><text x="2867" y="815">17</text><text x="2912" y="815">18</text><text x="2785" y="826">V magnitude</text></g>
<text transform="translate(2612,710) rotate(-90)" font-size="9.5" fill="#222" text-anchor="middle">photometric error (mag)</text>
</g>

<!-- Fig 4 page5 -->
<g>
<rect x="3477" y="153" width="687" height="260" fill="none" stroke="#333" stroke-width="1"/>
<g stroke="#333" stroke-width="0.8">
<path d="M3477,153v5M3513,153v3M3549,153v5M3585,153v3M3622,153v5M3658,153v3M3694,153v5M3730,153v3M3766,153v5M3802,153v3M3838,153v5M3874,153v3M3910,153v5M3946,153v3M3983,153v5M4019,153v3M4055,153v5M4091,153v3M4127,153v5M4163,153v3"/>
<path d="M3477,413v-5M3513,413v-3M3549,413v-5M3585,413v-3M3622,413v-5M3658,413v-3M3694,413v-5M3730,413v-3M3766,413v-5M3802,413v-3M3838,413v-5M3874,413v-3M3910,413v-5M3946,413v-3M3983,413v-5M4019,413v-3M4055,413v-5M4091,413v-3M4127,413v-5M4163,413v-3"/>
</g>
<svg x="3516" y="0" width="620" height="1200" viewBox="3516 0 620 1200" overflow="hidden"><use href="#spec" transform="translate(0,179)"/></svg>
<use href="#spec" transform="translate(0,232)"/>
<use href="#spec" transform="translate(0,283)"/>
<use href="#spec" transform="translate(0,335)"/>
<g font-family="Liberation Serif, serif" font-size="14" fill="#333"><text x="3839" y="209">LS III +47 36</text><text x="3839" y="261">LS III +47 37</text><text x="3839" y="313">LS III +47 38</text><text x="3839" y="365">LS III +47 39</text></g>
<g font-family="Liberation Serif, serif" font-size="10" fill="#222" text-anchor="middle"><text x="3477" y="427">4000</text><text x="3549" y="427">4100</text><text x="3622" y="427">4200</text><text x="3694" y="427">4300</text><text x="3766" y="427">4400</text><text x="3838" y="427">4500</text><text x="3910" y="427">4600</text><text x="3983" y="427">4700</text><text x="4055" y="427">4800</text><text x="4127" y="427">4900</text><text x="3820" y="441" font-size="11">Wavelength (Å)</text></g>
<text transform="translate(3468,283) rotate(-90)" font-family="Liberation Serif, serif" font-size="10" letter-spacing="1.5" fill="#333" text-anchor="middle">Normalised Flux</text>
</g>

<!-- Fig 5 page5 -->
<g>
<rect x="3487" y="518" width="288" height="202" fill="#f1f1f1"/>
<rect x="3487" y="518" width="288" height="202" fill="url(#pf5)"/>
<g fill="#000"><circle cx="3560" cy="558" r="7"/><circle cx="3629" cy="546" r="6"/><circle cx="3590" cy="668" r="4"/><circle cx="3690" cy="612" r="4"/><circle cx="3752" cy="575" r="3"/><circle cx="3655" cy="540" r="3"/><circle cx="3585" cy="565" r="2.5"/></g>
<path d="M3560,538v40M3540,558h40" stroke="#222" stroke-width="1.2"/>
<g fill="#8b0000"><circle cx="3646" cy="570" r="4.5"/><circle cx="3658" cy="566" r="5"/><circle cx="3668" cy="564" r="3"/><circle cx="3545" cy="567" r="3.5"/><circle cx="3637" cy="595" r="3"/><circle cx="3658" cy="606" r="2.5"/><circle cx="3663" cy="626" r="5"/></g>
<g fill="none" stroke="#d02020" stroke-width="1"><circle cx="3545" cy="567" r="5"/><circle cx="3646" cy="570" r="6"/><circle cx="3658" cy="566" r="6"/><circle cx="3660" cy="557" r="4.5"/><circle cx="3672" cy="564" r="4.5"/><circle cx="3637" cy="595" r="5"/><circle cx="3658" cy="606" r="4.5"/><circle cx="3663" cy="626" r="6"/></g>
<g font-size="9" fill="#d02020"><text x="3541" y="587">4</text><text x="3635" y="610">9</text><text x="3651" y="620">22</text><text x="3669" y="630">2</text><text x="3653" y="552">15</text><text x="3672" y="554">96</text><text x="3632" y="568">5</text><text x="3652" y="593">2012</text><text x="3668" y="587">2015</text></g>
<rect x="3487" y="518" width="288" height="202" fill="none" stroke="#555" stroke-width="1"/>
<g font-size="8.5" fill="#222" text-anchor="end"><text x="3484" y="521">48.04</text><text x="3484" y="571">48.02</text><text x="3484" y="621">48.0</text><text x="3484" y="672">47.98</text><text x="3484" y="722">47.96</text></g>
<g font-size="8.5" fill="#222" text-anchor="middle"><text x="3489" y="729">321.2</text><text x="3558" y="729">321.15</text><text x="3630" y="729">321.1</text><text x="3703" y="729">321.05</text><text x="3773" y="729">321.0</text><text x="3631" y="739">RA</text></g>
<text transform="translate(3455,620) rotate(-90)" font-size="8" fill="#222" text-anchor="middle">DEC</text>
</g>

<!-- Fig 6 page5 -->
<g>
<rect x="3861" y="516" width="257" height="207" fill="#fff"/>
<path d="M3920,535 L3945,526 L3970,540 L3972,600 L3962,618 L3925,620 L3918,580Z" fill="url(#pPl)"/>
<ellipse cx="3943" cy="640" rx="27" ry="24" fill="url(#pRd)"/>
<path d="M3965,630 L4020,615 L4080,618 L4115,630 L4112,650 L4060,660 L4010,665 L3975,670Z" fill="url(#pTl)"/>
<path d="M4085,670 L4115,668 L4117,700 L4090,700Z" fill="url(#pTl)"/>
<path d="M3940,660 L3975,665 L3980,690 L3950,690Z" fill="url(#pRd)" opacity="0.7"/>
<g fill="#e8d8c0" stroke="#999" stroke-width="0.6"><circle cx="3898" cy="540" r="2.4"/><circle cx="3905" cy="555" r="2.4"/><circle cx="3900" cy="580" r="2.4"/><circle cx="3908" cy="600" r="2.4"/><circle cx="3902" cy="620" r="2.4"/><circle cx="3912" cy="545" r="2.4"/><circle cx="3915" cy="570" r="2.4"/><circle cx="3880" cy="590" r="2.4"/><circle cx="3893" cy="608" r="2.4"/><circle cx="3918" cy="635" r="2.4"/><circle cx="3905" cy="650" r="2.4"/><circle cx="3912" cy="665" r="2.4"/></g>
<g fill="#2040d0"><circle cx="3905" cy="680" r="1.8"/><circle cx="3895" cy="690" r="1.8"/><circle cx="3880" cy="672" r="1.8"/><circle cx="3900" cy="702" r="1.8"/><circle cx="3870" cy="615" r="1.8"/><circle cx="4085" cy="676" r="1.6"/></g>
<path d="M3888,723 L3921,557" stroke="#000" stroke-width="1.4" stroke-dasharray="4,3" fill="none"/>
<path d="M3943,568 Q3952,580 3950,615 L3952,628" stroke="#000" stroke-width="1.3" fill="none"/>
<path d="M3952,628 L3975,668" stroke="#000" stroke-width="1.3" stroke-dasharray="1.5,2" fill="none"/>
<g font-size="6.5" fill="#40d0a0"><text x="3886" y="606">22</text><text x="3886" y="617">96</text><text x="3920" y="643">15</text></g>
<g font-size="6.5" fill="#2050e0"><text x="3913" y="673">9</text><text x="3913" y="692">2012</text><text x="3905" y="711">2015</text></g>
<rect x="3861" y="516" width="257" height="207" fill="none" stroke="#555" stroke-width="1"/>
<rect x="4133" y="516" width="9" height="207" fill="url(#jet)" stroke="#333" stroke-width="0.6"/>
<g font-size="8.5" fill="#222"><text x="4145" y="529">19</text><text x="4145" y="547">18</text><text x="4145" y="566">17</text><text x="4145" y="584">16</text><text x="4145" y="602">15</text><text x="4145" y="621">14</text><text x="4145" y="639">13</text><text x="4145" y="657">12</text><text x="4145" y="726">11</text></g>
<text transform="translate(4163,620) rotate(90)" font-size="8.5" fill="#222" text-anchor="middle">V</text>
<g font-size="8.5" fill="#222" text-anchor="end"><text x="3858" y="532">1.2</text><text x="3858" y="560">1.0</text><text x="3858" y="587">0.8</text><text x="3858" y="615">0.6</text><text x="3858" y="643">0.4</text><text x="3858" y="671">0.2</text><text x="3858" y="698">0.0</text><text x="3858" y="726">−0.2</text></g>
<g font-size="8.5" fill="#222" text-anchor="middle"><text x="3886" y="733">0.0</text><text x="3938" y="733">0.2</text><text x="3989" y="733">0.4</text><text x="4041" y="733">0.6</text><text x="4092" y="733">0.8</text><text x="3990" y="745" font-family="Liberation Serif, serif">[m₁]</text></g>
<text transform="translate(3842,620) rotate(-90)" font-size="8.5" font-family="Liberation Serif, serif" fill="#222" text-anchor="middle">[c₁]</text>
</g>
</svg>
</body></html>
